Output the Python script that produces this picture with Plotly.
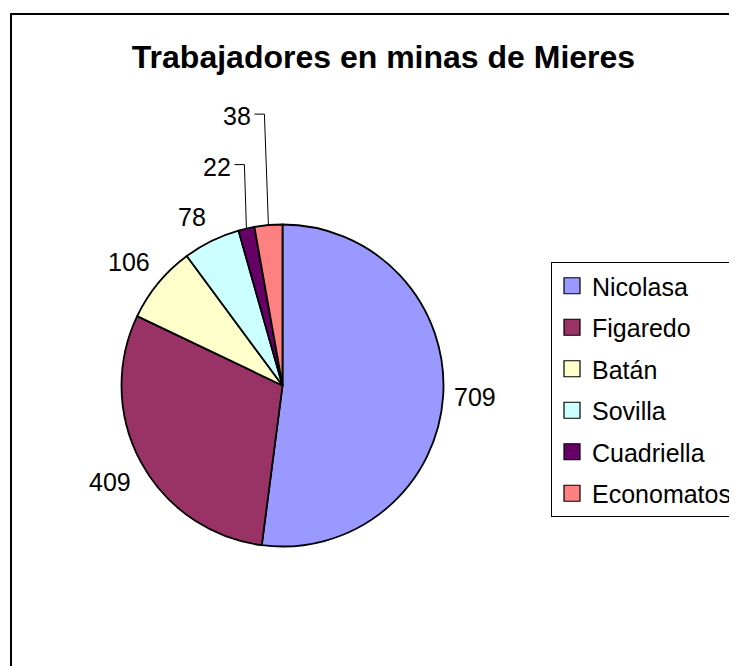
import math
import plotly.graph_objects as go

minas = ["Nicolasa", "Figaredo", "Batán", "Sovilla", "Cuadriella", "Economatos"]
trabajadores = [709, 409, 106, 78, 22, 38]
colores = ["#9999FF", "#993366", "#FFFFCC", "#CCFFFF", "#660066", "#FF8080"]

OX, OY = 8, 8                    # margen del <body> de la página
W, H = 737 - OX, 666 - OY
CX, CY, R = 282.5, 385.5, 161   # centro y radio de la tarta (px de la página)
GAP = 10                         # distancia etiqueta-borde
FONT = "Liberation Sans, Arial, sans-serif"
# sectores finos: etiqueta levantada con línea guía (codo dx, dy en px)
LEADER = {"Cuadriella": (-2, -64), "Economatos": (-4, -111)}


def paper(x, y):
    return (x - OX) / W, 1 - (y - OY) / H


fig = go.Figure()

x0, y0 = paper(CX - R, CY + R)
x1, y1 = paper(CX + R, CY - R)
fig.add_trace(go.Pie(
    labels=minas, values=trabajadores, sort=False, direction="clockwise",
    rotation=0, textinfo="none", showlegend=False,
    marker=dict(colors=colores, line=dict(color="black", width=1.8)),
    domain=dict(x=[x0, x1], y=[y0, y1])))

# leyenda: trazas vacías para poder separar las filas
for m, c in zip(minas, colores):
    fig.add_trace(go.Scatter(
        x=[None], y=[None], mode="markers", name=m, legendgroup=m,
        marker=dict(symbol="square", size=16, color=c,
                    line=dict(color="black", width=1.2))))

# etiquetas de valor
total = sum(trabajadores)
acum = 0
annotations = []
shapes = []
for m, v in zip(minas, trabajadores):
    ang = math.radians((acum + v / 2) / total * 360)
    acum += v
    s, c = math.sin(ang), math.cos(ang)
    if m in LEADER:
        ax, ay = CX + R * s, CY - R * c
        dx, dy = LEADER[m]
        ex, ey = ax + dx, ay + dy
        p = [paper(ax, ay), paper(ex, ey), paper(ex - 10, ey)]
        shapes.append(dict(
            type="path", xref="paper", yref="paper",
            path="M {0} {1} L {2} {3} L {4} {5}".format(*p[0], *p[1], *p[2]),
            line=dict(color="black", width=1)))
        tx, ty = paper(ex - 12, ey + 2)
        annotations.append(dict(
            x=tx, y=ty, xref="paper", yref="paper", text=str(v),
            showarrow=False, xanchor="right", yanchor="middle", borderpad=0,
            font=dict(family=FONT, size=25, color="black")))
        continue
    lx, ly = CX + (R + GAP) * s, CY - (R + GAP) * c
    xa = "left" if s > 0.3 else ("right" if s < -0.3 else "center")
    ya = "bottom" if c > 0.3 else ("top" if c < -0.3 else "middle")
    tx, ty = paper(lx, ly)
    annotations.append(dict(
        x=tx, y=ty, xref="paper", yref="paper", text=str(v),
        showarrow=False, xanchor=xa, yanchor=ya, borderpad=0,
        font=dict(family=FONT, size=25, color="black")))

# marco exterior
fx0, fy0 = paper(11, 14)
shapes.append(dict(type="rect", xref="paper", yref="paper",
                   x0=fx0, y0=-0.05, x1=1.05, y1=fy0,
                   line=dict(color="black", width=2)))

lx, ly = paper(551, 262)
tx, ty = paper(383.5, 57)
fig.update_layout(
    width=W, height=H,
    margin=dict(l=0, r=0, t=0, b=0, autoexpand=False),
    paper_bgcolor="white", plot_bgcolor="white",
    font=dict(family=FONT, size=25, color="black"),
    title=dict(text="<b>Trabajadores en minas de Mieres</b>",
               x=tx, xanchor="center", xref="paper",
               y=ty, yanchor="middle", yref="container",
               font=dict(family=FONT, size=32, color="black")),
    legend=dict(x=lx, y=ly, xanchor="left", yanchor="top",
                bgcolor="white", bordercolor="black", borderwidth=1,
                tracegroupgap=6,
                font=dict(family=FONT, size=25, color="black")),
    annotations=annotations, shapes=shapes,
    xaxis=dict(visible=False), yaxis=dict(visible=False),
    hovermode=False)

fig.write_html("out.html")
